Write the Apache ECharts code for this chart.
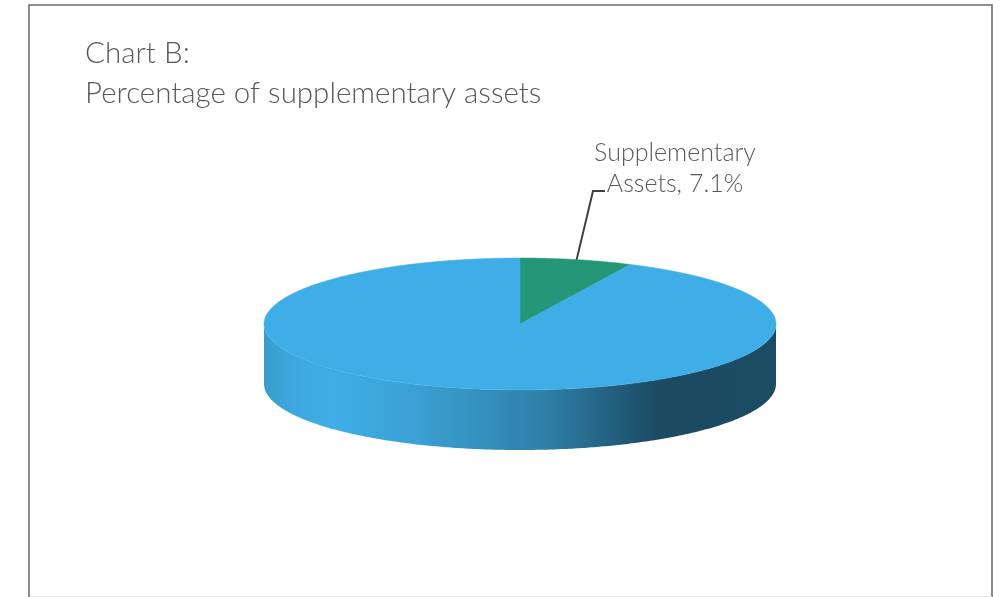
<!DOCTYPE html>
<html>
<head>
<meta charset="utf-8">
<style>html,body{margin:0;padding:0;background:#fff}#c{width:1005px;height:597px}</style>
<script src="https://cdn.jsdelivr.net/npm/echarts@6/dist/echarts.min.js"></script>
</head>
<body>
<div id="c"></div>
<script>
var titleLines = ["Chart B:", "Percentage of supplementary assets"];
var categories = ["Supplementary Assets", "Other Assets"];
var seriesValues = [7.1, 92.9];
var sliceColors = ["#259678", "#3FAEE6"];
var labelled = [true, false];

var FONT = 'Lato';
var TEXT = '#595959';
var cx = 520, cy = 324, rx = 256, ry = 66, depth = 60;
var total = seriesValues.reduce(function (a, b) { return a + b; }, 0);

function pt(t, dy) {
  return [cx + rx * Math.sin(t), cy - ry * Math.cos(t) + (dy || 0)];
}
function arc(a, b) {
  var n = Math.max(2, Math.ceil(Math.abs(b - a) / 0.01)), out = [];
  for (var i = 0; i <= n; i++) out.push(a + (b - a) * i / n);
  return out;
}
var sideFill = new echarts.graphic.LinearGradient(264, 0, 776, 0, [
  { offset: 0, color: '#3A9CCC' },
  { offset: 0.06, color: '#3DA8DE' },
  { offset: 0.13, color: '#3FAEE6' },
  { offset: 0.30, color: '#3BA0D2' },
  { offset: 0.55, color: '#2F7FA8' },
  { offset: 0.77, color: '#1B4A62' },
  { offset: 1, color: '#1C4C64' }
], true);

function renderSlice(params, api) {
  var i = params.dataIndex;
  var before = 0;
  for (var k = 0; k < i; k++) before += seriesValues[k];
  var a0 = before / total * 2 * Math.PI;
  var a1 = (before + api.value(0)) / total * 2 * Math.PI;
  var children = [];

  var s0 = Math.max(a0, Math.PI / 2), s1 = Math.min(a1, 3 * Math.PI / 2);
  if (s1 > s0) {
    var ts = arc(s0, s1);
    var side = ts.map(function (t) { return pt(t, 0); })
      .concat(ts.slice().reverse().map(function (t) { return pt(t, depth); }));
    children.push({ type: 'polygon', z2: 1, shape: { points: side }, style: { fill: sideFill } });
  }
  var top = [[cx, cy]].concat(arc(a0, a1).map(function (t) { return pt(t, 0); }));
  children.push({ type: 'polygon', z2: 2, shape: { points: top }, style: { fill: sliceColors[i], stroke: sliceColors[i], lineWidth: 0.5 } });

  if (labelled[i]) {
    var start = pt((a0 + a1) / 2, 0);
    children.push({
      type: 'polyline', z2: 3,
      shape: { points: [start, [593, 191], [605, 191]] },
      style: { stroke: '#404040', lineWidth: 2, fill: null }
    });
    var words = categories[i].split(' ');
    children.push({
      type: 'text', z2: 4, x: 675, y: 168,
      style: {
        text: words[0] + '\n' + words[1] + ', ' + api.value(0).toFixed(1) + '%',
        fill: TEXT, font: '300 25px ' + FONT,
        lineHeight: 31, align: 'center', verticalAlign: 'middle'
      }
    });
  }
  return { type: 'group', children: children };
}

var chart = echarts.init(document.getElementById('c'), null, { renderer: 'canvas' });
chart.setOption({
  backgroundColor: '#fff',
  animation: false,
  title: {
    text: titleLines.join('\n'), left: 80, top: 28,
    textStyle: { fontFamily: FONT, fontWeight: 300, fontSize: 29.5, lineHeight: 40, color: TEXT }
  },
  graphic: [{
    type: 'polyline', silent: true,
    shape: { points: [[29, 600], [29, 5], [992, 5], [992, 600]] },
    style: { stroke: '#6e6e6e', lineWidth: 1.6, fill: null }
  }, {
    type: 'line', silent: true,
    shape: { x1: 30, y1: 596.5, x2: 992, y2: 596.5 },
    style: { stroke: '#e2e2e2', lineWidth: 1 }
  }],
  series: [{
    type: 'custom',
    coordinateSystem: 'none',
    renderItem: renderSlice,
    data: seriesValues.map(function (v, i) { return { name: categories[i], value: [v] }; })
  }]
});
</script>
</body>
</html>
